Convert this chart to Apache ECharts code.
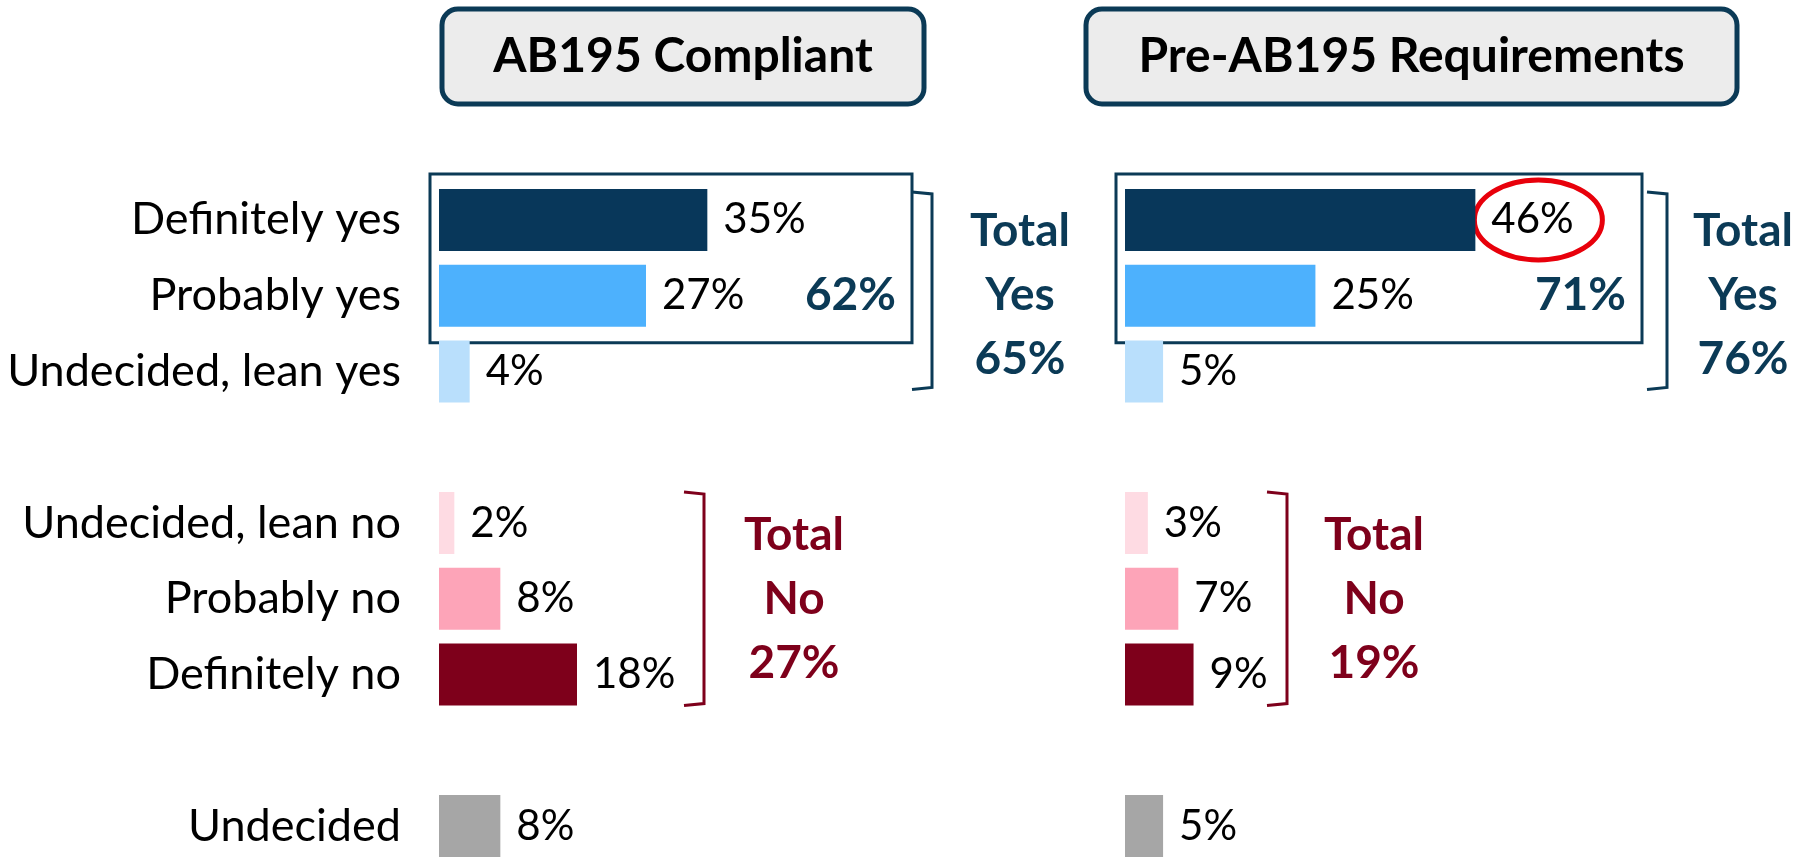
<!DOCTYPE html>
<html>
<head>
<meta charset="utf-8">
<script src="https://cdn.jsdelivr.net/npm/echarts@6/dist/echarts.min.js"></script>
<style>
html,body{margin:0;padding:0;background:#fff;}
#chart{width:1818px;height:857px;}
</style>
</head>
<body>
<div id="chart"></div>
<script>
// answer rows, the blank ones are the gaps between groups
var categories=['Definitely yes','Probably yes','Undecided, lean yes',' ','Undecided, lean no','Probably no','Definitely no','  ','Undecided'];
var barColors=['#08375a','#4db1fd','#b9dffc','#ffffff','#fedbe3','#fda4b8','#7e001b','#ffffff','#a6a6a6'];
var compliant=[35,27,4,null,2,8,18,null,8];
var preAB195=[46,25,5,null,3,7,9,null,5];
var panelTitles=['AB195 Compliant','Pre-AB195 Requirements'];
var topTwoTotals=['62%','71%'];
var yesTotals=['65%','76%'];
var noTotals=['27%','19%'];

var navy='#0b3a56';
var wine='#7e001b';
var fontName='Lato, "Open Sans", sans-serif';

// where things sit in each panel
var panels=[
	{gridLeft:439,gridWidth:460,titleX:442,titleW:482,boxRight:912,yesBracketX:932,yesTextX:1020,noBracketX:704,noTextX:794},
	{gridLeft:1125,gridWidth:457,titleX:1086,titleW:651,boxRight:1642,yesBracketX:1667,yesTextX:1743,noBracketX:1287,noTextX:1374}
];

function seriesData(values){
	var out=[];
	for(var i=0;i<values.length;i++){
		out.push({value:values[i],itemStyle:{color:barColors[i]}});
	}
	return out;
}

var chart=echarts.init(document.getElementById('chart'));

var grids=[],xAxes=[],yAxes=[],series=[];
var allValues=[compliant,preAB195];
for(var p=0;p<2;p++){
	// the last row runs off the bottom of the page, so let the grid overflow
	grids.push({left:panels[p].gridLeft,width:panels[p].gridWidth,top:182,height:682,containLabel:false,outerBoundsMode:'none'});
	xAxes.push({type:'value',gridIndex:p,min:0,max:60,show:false});
	yAxes.push({
		type:'category',gridIndex:p,inverse:true,data:categories,
		axisLine:{show:false},axisTick:{show:false},splitLine:{show:false},
		axisLabel:{show:p==0,margin:38,fontSize:45,color:'#000',fontFamily:fontName}
	});
	series.push({
		type:'bar',xAxisIndex:p,yAxisIndex:p,barWidth:62,
		data:seriesData(allValues[p]),
		label:{show:true,position:'right',distance:16,formatter:'{c}%',fontSize:42,color:'#000',fontFamily:fontName},
		silent:true,animation:false
	});
}

var option={
	animation:false,
	grid:grids,
	xAxis:xAxes,
	yAxis:yAxes,
	series:series
};
chart.setOption(option);

//标注：方框，括号，合计
function px(gi,val,row){
	return chart.convertToPixel({gridIndex:gi},[val,row]);
}

function bracket(x,top,bottom,color){
	return {
		type:'polyline',
		shape:{points:[[x-20,top],[x,top+2],[x,bottom-2],[x-20,bottom]]},
		style:{stroke:color,lineWidth:3,fill:null}
	};
}

function bigText(text,x,y,color,size){
	return {
		type:'text',
		style:{text:text,x:x,y:y,fill:color,fontSize:size,fontWeight:'bold',fontFamily:fontName,
			align:'center',verticalAlign:'middle',lineHeight:64}
	};
}

var graphics=[];
var halfBar=31;
for(var p=0;p<2;p++){
	var pn=panels[p];
	var y0=px(p,0,0)[1],y1=px(p,0,1)[1],y2=px(p,0,2)[1];
	var y4=px(p,0,4)[1],y5=px(p,0,5)[1],y6=px(p,0,6)[1];

	// title box
	graphics.push({
		type:'rect',
		shape:{x:pn.titleX,y:9,width:pn.titleW,height:95,r:16},
		style:{fill:'#ececec',stroke:navy,lineWidth:5}
	});
	graphics.push({
		type:'text',
		style:{text:panelTitles[p],x:pn.titleX+pn.titleW/2,y:57,fill:'#000',fontSize:48,fontWeight:'bold',
			fontFamily:fontName,align:'center',verticalAlign:'middle'}
	});

	// box round the top two answers
	var boxLeft=pn.gridLeft-9;
	var boxTop=y0-halfBar-15;
	var boxBottom=y1+halfBar+16;
	graphics.push({
		type:'rect',
		shape:{x:boxLeft,y:boxTop,width:pn.boxRight-boxLeft,height:boxBottom-boxTop},
		style:{fill:null,stroke:navy,lineWidth:3}
	});
	graphics.push({
		type:'text',
		style:{text:topTwoTotals[p],x:pn.boxRight-16,y:y1,fill:navy,fontSize:46,fontWeight:'bold',
			fontFamily:fontName,align:'right',verticalAlign:'middle'}
	});

	// total yes
	graphics.push(bracket(pn.yesBracketX,y0-halfBar+3,y2+halfBar-13,navy));
	graphics.push(bigText('Total\nYes\n'+yesTotals[p],pn.yesTextX,y1,navy,46));

	// total no
	graphics.push(bracket(pn.noBracketX,y4-halfBar,y6+halfBar,wine));
	graphics.push(bigText('Total\nNo\n'+noTotals[p],pn.noTextX,y5,wine,46));
}

// red ring on the 46%
var ringAt=px(1,preAB195[0],0);
graphics.push({
	type:'ellipse',
	shape:{cx:ringAt[0]+63,cy:ringAt[1],rx:64,ry:40},
	style:{fill:null,stroke:'#e8000b',lineWidth:5}
});

chart.setOption({graphic:graphics});
</script>
</body>
</html>
